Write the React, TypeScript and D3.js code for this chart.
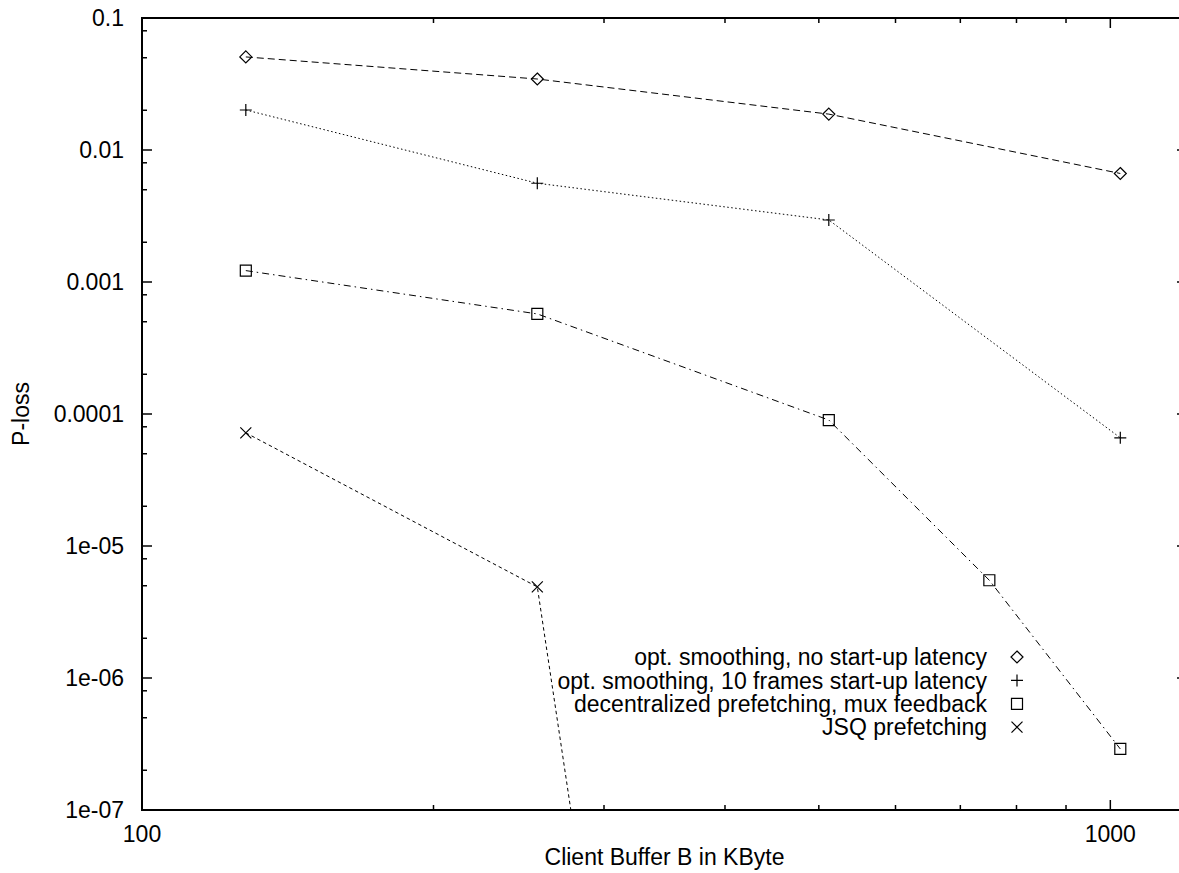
import { useEffect, useRef } from 'react';
import * as d3 from 'd3';

// buffer sizes (KByte) and loss probabilities
const bufferSizes = [128, 256, 512, 1024];
const optNoLatency = [0.0507, 0.0345, 0.0187, 0.00664];
const optTenFrames = [0.0201, 0.0056, 0.00295, 6.6e-5];
const decentralSizes = [128, 256, 512, 750, 1024];
const decentralMux = [0.00122, 0.000573, 9.0e-5, 5.5e-6, 2.9e-7];
const jsqSizes = [128, 256, 512];
const jsqPrefetch = [7.2e-5, 4.9e-6, 1e-20];

const seriesNames = [
  'opt. smoothing, no start-up latency',
  'opt. smoothing, 10 frames start-up latency',
  'decentralized prefetching, mux feedback',
  'JSQ prefetching',
];

const xTickValues = [100, 1000];
const yTickValues = [1e-7, 1e-6, 1e-5, 1e-4, 1e-3, 1e-2, 1e-1];
const yTickLabels = ['1e-07', '1e-06', '1e-05', '0.0001', '0.001', '0.01', '0.1'];

const FONT = '"Liberation Sans", Arial, Helvetica, sans-serif';

type Marker = 'diamond' | 'plus' | 'square' | 'cross';

function markerPath(kind: Marker, s: number): string {
  switch (kind) {
    case 'diamond':
      return `M0,${-s}L${s},0L0,${s}L${-s},0Z`;
    case 'plus':
      return `M${-s},0H${s}M0,${-s}V${s}`;
    case 'square':
      return `M${-s},${-s}H${s}V${s}H${-s}Z`;
    case 'cross':
      return `M${-s},${-s}L${s},${s}M${-s},${s}L${s},${-s}`;
  }
}

export default function App() {
  const ref = useRef<SVGSVGElement>(null);

  useEffect(() => {
    if (!ref.current) return;
    const svg = d3.select(ref.current);
    svg.selectAll('*').remove();

    const W = 1179;
    const H = 873;
    const left = 142;
    const right = 1187;
    const top = 18;
    const bottom = 810;

    const x = d3.scaleLog().domain([100, 1200]).range([left, right]);
    const y = d3.scaleLog().domain([1e-7, 0.1]).range([bottom, top]);

    svg.append('rect').attr('width', W).attr('height', H).attr('fill', '#fff');

    svg
      .append('defs')
      .append('clipPath')
      .attr('id', 'plot-clip')
      .append('rect')
      .attr('x', left)
      .attr('y', top)
      .attr('width', right - left)
      .attr('height', bottom - top);

    const axes = svg.append('g').attr('stroke', '#000').attr('stroke-width', 1.5);

    // x ticks (major + minor), bottom and top
    const xMinor: number[] = [];
    for (let v = 200; v <= 900; v += 100) xMinor.push(v);
    xTickValues.forEach((v) => {
      axes.append('line').attr('x1', x(v)).attr('x2', x(v)).attr('y1', bottom).attr('y2', bottom - 10);
      axes.append('line').attr('x1', x(v)).attr('x2', x(v)).attr('y1', top).attr('y2', top + 10);
    });
    xMinor.forEach((v) => {
      axes.append('line').attr('x1', x(v)).attr('x2', x(v)).attr('y1', bottom).attr('y2', bottom - 5);
      axes.append('line').attr('x1', x(v)).attr('x2', x(v)).attr('y1', top).attr('y2', top + 5);
    });

    // y ticks, left and right
    const yMinor: number[] = [];
    yTickValues.slice(0, -1).forEach((d) => [2, 5, 8].forEach((m) => yMinor.push(d * m)));
    yTickValues.forEach((v) => {
      axes.append('line').attr('x1', left).attr('x2', left + 10).attr('y1', y(v)).attr('y2', y(v));
      axes.append('line').attr('x1', right).attr('x2', right - 10).attr('y1', y(v)).attr('y2', y(v));
    });
    yMinor.forEach((v) => {
      axes.append('line').attr('x1', left).attr('x2', left + 5).attr('y1', y(v)).attr('y2', y(v));
      axes.append('line').attr('x1', right).attr('x2', right - 5).attr('y1', y(v)).attr('y2', y(v));
    });

    axes
      .append('rect')
      .attr('x', left)
      .attr('y', top)
      .attr('width', right - left)
      .attr('height', bottom - top)
      .attr('fill', 'none')
      .attr('stroke-width', 2);

    // tick labels
    const labels = svg.append('g').attr('font-family', FONT).attr('font-size', 23).attr('fill', '#000');
    yTickValues.forEach((v, i) => {
      labels
        .append('text')
        .attr('x', left - 18)
        .attr('y', y(v))
        .attr('dy', '0.36em')
        .attr('text-anchor', 'end')
        .text(yTickLabels[i]);
    });
    xTickValues.forEach((v) => {
      labels
        .append('text')
        .attr('x', x(v))
        .attr('y', 842)
        .attr('text-anchor', 'middle')
        .text(String(v));
    });

    labels
      .append('text')
      .attr('x', (left + right) / 2)
      .attr('y', 865)
      .attr('text-anchor', 'middle')
      .text('Client Buffer B in KByte');

    labels
      .append('text')
      .attr('transform', `translate(29,${(top + bottom) / 2}) rotate(-90)`)
      .attr('text-anchor', 'middle')
      .text('P-loss');

    // series
    const series: { xs: number[]; ys: number[]; dash: string; marker: Marker; size: number }[] = [
      { xs: bufferSizes, ys: optNoLatency, dash: '7,4', marker: 'diamond', size: 6 },
      { xs: bufferSizes, ys: optTenFrames, dash: '1.5,2.5', marker: 'plus', size: 6 },
      { xs: decentralSizes, ys: decentralMux, dash: '7,4,1.5,4', marker: 'square', size: 5.5 },
      { xs: jsqSizes, ys: jsqPrefetch, dash: '3.5,3', marker: 'cross', size: 5.5 },
    ];

    const line = d3
      .line<[number, number]>()
      .x((d) => x(d[0]))
      .y((d) => y(d[1]));

    const plot = svg.append('g').attr('clip-path', 'url(#plot-clip)');

    series.forEach((s) => {
      const pts = s.xs.map((v, i) => [v, s.ys[i]] as [number, number]);
      plot
        .append('path')
        .attr('d', line(pts))
        .attr('fill', 'none')
        .attr('stroke', '#000')
        .attr('stroke-width', 1)
        .attr('stroke-dasharray', s.dash);
      plot
        .selectAll(null)
        .data(pts)
        .enter()
        .append('path')
        .attr('transform', (d) => `translate(${x(d[0])},${y(d[1])})`)
        .attr('d', markerPath(s.marker, s.size))
        .attr('fill', 'none')
        .attr('stroke', '#000')
        .attr('stroke-width', 1.2);
    });

    // legend
    const legend = svg.append('g').attr('font-family', FONT).attr('font-size', 23);
    series.forEach((s, i) => {
      const ly = 657 + i * 23.4;
      legend
        .append('text')
        .attr('x', 987)
        .attr('y', ly)
        .attr('dy', '0.36em')
        .attr('text-anchor', 'end')
        .text(seriesNames[i]);
      legend
        .append('path')
        .attr('transform', `translate(1017,${ly})`)
        .attr('d', markerPath(s.marker, s.size))
        .attr('fill', 'none')
        .attr('stroke', '#000')
        .attr('stroke-width', 1.2);
    });
  }, []);

  return (
    <svg
      ref={ref}
      width={1179}
      height={873}
      style={{ position: 'absolute', left: 0, top: 0, display: 'block' }}
    />
  );
}
